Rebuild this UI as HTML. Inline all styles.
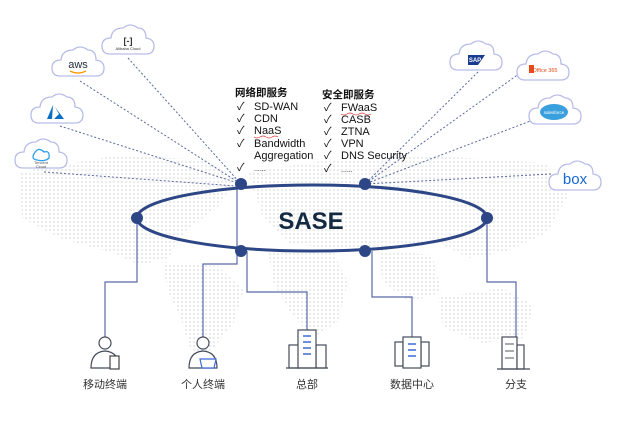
<!DOCTYPE html>
<html><head><meta charset="utf-8"><style>
html,body{margin:0;padding:0;background:#fff;}
body{width:624px;height:423px;overflow:hidden;position:relative;font-family:"Liberation Sans","Noto Sans CJK SC",sans-serif;}
svg{position:absolute;left:0;top:0;}
</style></head><body>
<svg width="624" height="423" viewBox="0 0 624 423" xmlns="http://www.w3.org/2000/svg">
<defs>
<pattern id="dots" width="4" height="4" patternUnits="userSpaceOnUse"><circle cx="2" cy="2" r="0.9" fill="#dadce0"/></pattern>
<g id="cloud"><path d="M-18,10 Q-26,10 -26,2 Q-26,-6 -17,-6 Q-16,-16 -5,-16 Q2,-22 10,-16 Q18,-16 18,-6 Q26,-5 26,2 Q26,10 18,10 Z" fill="#fff" stroke="#b8bde8" stroke-width="1.3"/></g>
</defs>
<g fill="url(#dots)">
<path d="M20,172 L120,155 L205,160 L235,178 L220,205 L185,232 L168,258 L140,265 L110,252 L60,238 L22,218 Z"/>
<path d="M162,262 L218,266 L244,290 L234,322 L212,350 L192,354 L182,322 L168,290 Z"/>
<path d="M248,172 L330,160 L420,155 L545,163 L568,195 L548,232 L505,252 L470,258 L440,244 L400,248 L360,254 L330,248 L290,244 L262,215 Z"/>
<path d="M268,250 L332,250 L348,282 L338,322 L312,338 L290,312 L273,282 Z"/>
<path d="M438,298 L502,288 L534,305 L524,338 L482,343 L443,327 Z"/>
<path d="M378,250 L432,255 L442,292 L410,302 L383,282 Z"/>
</g>
<g stroke="#5a6aa0" stroke-width="1" stroke-dasharray="2,2" fill="none">
<line x1="128" y1="58" x2="241" y2="184"/>
<line x1="80" y1="81" x2="241" y2="184"/>
<line x1="60" y1="126" x2="241" y2="184"/>
<line x1="44" y1="172" x2="236" y2="186"/>
<line x1="478" y1="72" x2="365" y2="184"/>
<line x1="523" y1="71" x2="365" y2="184"/>
<line x1="533" y1="120" x2="365" y2="184"/>
<line x1="551" y1="174" x2="365" y2="184"/>
</g>
<g transform="translate(128,44)"><use href="#cloud"/><text x="0" y="0" font-size="9" text-anchor="middle" fill="#333" font-weight="bold">[-]</text><text x="0" y="6" font-size="4" text-anchor="middle" fill="#333">Alibaba Cloud</text></g>
<g transform="translate(78,66)"><use href="#cloud"/><text x="0" y="2" font-size="11" text-anchor="middle" fill="#232f3e">aws</text><path d="M-8,5 Q0,9 8,5" stroke="#f90" stroke-width="1.3" fill="none"/></g>
<g transform="translate(57,113)"><use href="#cloud"/><path d="M-4,-8 L-10,6 L-5,6 Z M-2,-6 L7,6 L-3,6 L2,1 Z" fill="#0a6fc2"/></g>
<g transform="translate(41,158)"><use href="#cloud"/><path d="M-7,-4 Q-3,-12 3,-6 Q9,-8 8,0 Q4,4 -4,2 Q-10,1 -7,-4Z" fill="none" stroke="#2aa0ea" stroke-width="1.3"/><text x="0" y="6" font-size="4" text-anchor="middle" fill="#555">Tencent</text><text x="0" y="10" font-size="4" text-anchor="middle" fill="#555">Cloud</text></g>
<g transform="translate(476,60)"><use href="#cloud"/><path d="M-8,-5 L9,-5 L2,5 L-8,5 Z" fill="#1a3a8f"/><text x="-1" y="2" font-size="6" text-anchor="middle" fill="#fff" font-weight="bold">SAP</text></g>
<g transform="translate(543,70)"><use href="#cloud"/><rect x="-14" y="-5" width="5" height="8" fill="#e64a19"/><text x="2" y="2" font-size="5.5" text-anchor="middle" fill="#e64a19">Office 365</text></g>
<g transform="translate(555,114)"><use href="#cloud"/><ellipse cx="-1" cy="-2" rx="14" ry="8" fill="#3aa0dd"/><text x="-1" y="0" font-size="4.5" text-anchor="middle" fill="#fff">salesforce</text></g>
<g transform="translate(575,180)"><use href="#cloud"/><text x="0" y="4" font-size="15" text-anchor="middle" fill="#1666d0">box</text></g>
<g font-size="11" fill="#111">
<text x="235" y="96" font-weight="bold" font-size="10.5">网络即服务</text>
<text x="237" y="110">✓</text><text x="254" y="110">SD-WAN</text>
<text x="237" y="122">✓</text><text x="254" y="122">CDN</text>
<text x="237" y="134">✓</text><text x="254" y="134">NaaS</text>
<text x="237" y="147">✓</text><text x="254" y="147">Bandwidth</text>
<text x="254" y="159">Aggregation</text>
<text x="237" y="171">✓</text><text x="254" y="171" font-size="7">......</text>
<text x="322" y="98" font-weight="bold" font-size="10.5">安全即服务</text>
<text x="324" y="111">✓</text><text x="341" y="111">FWaaS</text>
<text x="324" y="123">✓</text><text x="341" y="123">CASB</text>
<text x="324" y="135">✓</text><text x="341" y="135">ZTNA</text>
<text x="324" y="147">✓</text><text x="341" y="147">VPN</text>
<text x="324" y="159">✓</text><text x="341" y="159">DNS Security</text>
<text x="324" y="172">✓</text><text x="341" y="172" font-size="7">......</text>
</g>
<path d="M254,137 q3,2 6,0 t6,0 t6,0 t6,0" stroke="#d33" stroke-width="0.7" fill="none"/>
<path d="M341,114 q3,2 6,0 t6,0 t6,0 t6,0 t6,0" stroke="#d33" stroke-width="0.7" fill="none"/>
<g stroke="#5a6aa8" stroke-width="1.2" fill="none">
<polyline points="137,218 137,282 105,282 105,338"/>
<polyline points="237,185 237,264 203,264 203,338"/>
<polyline points="247,251 247,292 307,292 307,335"/>
<polyline points="372,251 372,297 412,297 412,340"/>
<polyline points="487,218 487,282 516,282 516,338"/>
</g>
<ellipse cx="312" cy="218" rx="175" ry="33" fill="none" stroke="#2d4686" stroke-width="3"/>
<g fill="#2d4686">
<circle cx="137" cy="218" r="6"/><circle cx="487" cy="218" r="6"/>
<circle cx="241" cy="184" r="6"/><circle cx="365" cy="184" r="6"/>
<circle cx="241" cy="251" r="6"/><circle cx="365" cy="251" r="6"/>
</g>
<text x="311" y="229" font-size="24" font-weight="bold" text-anchor="middle" fill="#142a40">SASE</text>
<g stroke="#444b5a" stroke-width="1.2" fill="#fff">
<circle cx="105" cy="343" r="6"/><path d="M91,368 Q91,352 105,351 Q119,352 119,368 Z"/>
<rect x="110" y="356" width="9" height="13" stroke="#444"/>
<circle cx="203" cy="343" r="6"/><path d="M189,368 Q189,352 203,351 Q217,352 217,368 Z"/>
<path d="M200,359 L216,359 L214,368 L202,368 Z" stroke="#3d6ad6"/>
<rect x="289" y="345" width="10" height="23"/><rect x="316" y="345" width="10" height="23"/><rect x="298" y="330" width="18" height="38"/>
<rect x="395" y="342" width="8" height="24"/><rect x="421" y="342" width="8" height="24"/><rect x="403" y="337" width="18" height="31"/>
<rect x="502" y="337" width="15" height="32"/><rect x="517" y="345" width="7" height="24"/><line x1="497" y1="369" x2="530" y2="369"/>
<line x1="286" y1="368" x2="328" y2="368"/>
</g>
<g stroke="#3d6ad6" stroke-width="1.5"><line x1="303" y1="336" x2="311" y2="336"/><line x1="303" y1="342" x2="311" y2="342"/><line x1="303" y1="348" x2="311" y2="348"/><line x1="303" y1="354" x2="311" y2="354"/><line x1="408" y1="344" x2="416" y2="344"/><line x1="408" y1="350" x2="416" y2="350"/><line x1="408" y1="356" x2="416" y2="356"/></g>
<g stroke="#555" stroke-width="1"><line x1="505" y1="344" x2="514" y2="344"/><line x1="505" y1="351" x2="514" y2="351"/><line x1="505" y1="358" x2="514" y2="358"/></g>
<g font-size="11" fill="#333" text-anchor="middle">
<text x="105" y="388">移动终端</text>
<text x="203" y="388">个人终端</text>
<text x="307" y="388">总部</text>
<text x="412" y="388">数据中心</text>
<text x="516" y="388">分支</text>
</g>
</svg>
</body></html>
